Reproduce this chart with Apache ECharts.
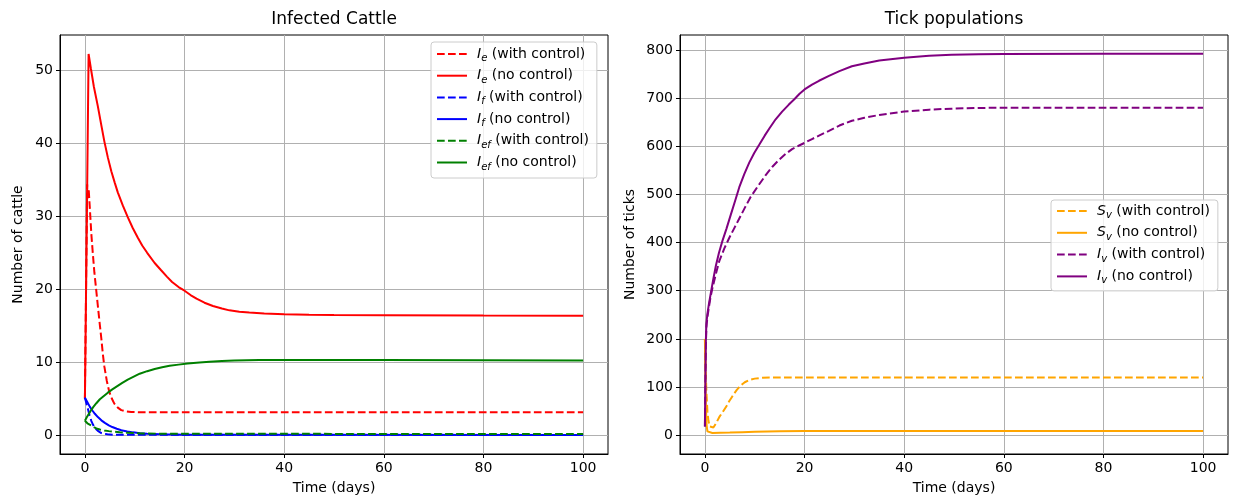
<!DOCTYPE html>
<html>
<head>
<meta charset="utf-8">
<script src="https://cdn.jsdelivr.net/npm/echarts@6/dist/echarts.min.js"></script>
<style>html,body{margin:0;padding:0;background:#fff}#c{width:1233px;height:500px}</style>
</head>
<body>
<div id="c"></div>
<script>
// ---- Tick labels ----
const xTicks = [0, 20, 40, 60, 80, 100];
const yTicksCattle = [0, 10, 20, 30, 40, 50];
const yTicksTicks = [0, 100, 200, 300, 400, 500, 600, 700, 800];

// ---- Infected Cattle ----
const tIeWC = [0, 0.45, 0.6, 0.75, 1.0, 1.3, 1.6, 1.9, 2.25, 2.6, 2.95, 3.3, 3.6, 3.9, 4.4, 4.9, 5.4, 5.9, 6.6, 7.3, 8.3, 9.3, 12, 100];
const IeWC  = [5, 34.4, 32.3, 33.8, 31, 27.5, 24.8, 22.3, 20, 17.7, 15.4, 13.2, 11.1, 9.4, 7.4, 5.9, 5.0, 4.3, 3.75, 3.4, 3.22, 3.15, 3.1, 3.1];
const tIeNC = [0, 0.74, 1.2, 1.8, 2.6, 3.3, 3.9, 4.6, 5.3, 6, 6.6, 7.6, 8.6, 9.6, 10.6, 11.5, 12.5, 14, 15.3, 16.5, 17.5, 18.8, 20, 21.2, 22.4, 24, 25.7, 27.5, 29, 31, 33, 36, 40, 45, 50, 60, 80, 100];
const IeNC  = [5.0, 52.3, 50.3, 47.8, 45.1, 42.5, 40.3, 38.1, 36.2, 34.6, 33.3, 31.5, 29.9, 28.4, 27.1, 26.0, 25.0, 23.6, 22.6, 21.7, 21.0, 20.3, 19.8, 19.2, 18.7, 18.15, 17.7, 17.35, 17.1, 16.9, 16.8, 16.68, 16.58, 16.5, 16.46, 16.42, 16.38, 16.36];
const tIfWC = [0, 0.35, 0.67, 0.93, 1.3, 1.67, 2.1, 2.6, 3.3, 4.5, 6, 100];
const IfWC  = [5.1, 4.2, 3.4, 2.7, 1.9, 1.35, 0.9, 0.55, 0.25, 0.08, 0.02, 0];
const tIfNC = [0, 0.5, 1, 1.5, 2, 2.6, 3.3, 4, 4.8, 5.5, 6.4, 7.3, 8.5, 9.7, 11, 12.5, 15, 20, 30, 100];
const IfNC  = [5.1, 4.5, 3.85, 3.35, 2.9, 2.45, 2.0, 1.65, 1.3, 1.08, 0.85, 0.65, 0.48, 0.35, 0.24, 0.16, 0.08, 0.03, 0.01, 0];
const tIefWC = [0, 0.5, 1.27, 1.8, 2.3, 3, 3.9, 4.8, 5.7, 7, 8.6, 10, 11.7, 15, 20, 100];
const IefWC  = [1.95, 1.6, 1.3, 1.08, 0.9, 0.75, 0.62, 0.52, 0.45, 0.36, 0.3, 0.25, 0.2, 0.17, 0.15, 0.13];
const tIefNC = [0, 0.4, 0.8, 1.2, 1.7, 2.3, 3, 3.8, 4.6, 5.5, 6.5, 7.5, 8.6, 9.8, 11, 12.5, 14, 15.5, 17, 18.8, 20.6, 23, 25, 27.5, 30, 35, 40, 60, 80, 100];
const IefNC  = [1.95, 2.45, 2.9, 3.35, 3.85, 4.35, 4.9, 5.35, 5.8, 6.25, 6.7, 7.15, 7.6, 8.0, 8.4, 8.75, 9.05, 9.3, 9.5, 9.65, 9.8, 9.95, 10.05, 10.15, 10.2, 10.27, 10.3, 10.3, 10.25, 10.2];

// ---- Tick populations ----
const tSvWC = [0, 0.15, 0.3, 0.5, 0.7, 1.0, 1.3, 1.7, 2.2, 2.9, 3.5, 4, 4.5, 4.9, 5.4, 5.9, 6.4, 6.9, 7.5, 8, 8.9, 10, 11.5, 13, 100];
const SvWC  = [200, 140, 90, 50, 30, 18, 14, 16, 24, 38, 47, 55, 63, 71, 79, 87, 94, 100, 106, 110, 114.5, 117.5, 119.3, 120, 120];
const tSvNC = [0, 0.1, 0.2, 0.35, 0.5, 0.8, 1.5, 3, 5, 7.5, 10, 15, 20, 30, 40, 100];
const SvNC  = [200, 120, 60, 20, 8, 5, 4.5, 5, 5.5, 6.3, 7, 8, 8.5, 8.9, 9, 9];
const tIvWC = [0, 0.1, 0.2, 0.3, 0.5, 0.8, 1.1, 1.5, 2.2, 2.9, 3.9, 4.9, 5.9, 6.9, 8, 9.2, 10.7, 12.2, 13.5, 14.9, 16.2, 17.5, 18.8, 20, 21.5, 22.9, 24.9, 27, 29.5, 32, 35, 40, 45, 49.5, 55, 60, 80, 100];
const IvWC  = [18, 110, 190, 225, 245, 266, 285, 305, 335, 362, 388, 410, 430, 450, 472, 495, 518, 540, 557, 572, 584, 594, 601, 607, 615, 622, 632, 643, 653, 659, 665, 672, 676, 678, 679.5, 680, 680, 680];
const tIvNC = [0, 0.1, 0.2, 0.3, 0.5, 0.8, 1.2, 1.7, 2.2, 2.8, 3.5, 4.3, 5.2, 6.1, 6.9, 7.9, 8.9, 9.9, 10.9, 12, 13, 14.2, 15.5, 16.8, 18, 19, 20, 21.5, 22.9, 24.9, 27, 29.5, 32, 35, 40, 45, 49.5, 55, 60, 80, 100];
const IvNC  = [18, 120, 200, 232, 252, 272, 296, 325, 352, 378, 403, 428, 458, 488, 515, 542, 566, 586, 603, 622, 638, 656, 672, 686, 698, 709, 718, 728, 736, 746, 756, 766, 772, 778, 784, 788, 790, 791, 791.5, 792, 792];

function pairs(t, v) { return t.map((x, i) => [x, v[i]]); }

const FONT = 'DejaVu Sans';
const FS = 14;
const DASH = [7.7, 3.3];
const labels = {
  IeWC: '{it|I}{sub|e}{n| (with control)}',
  IeNC: '{it|I}{sub|e}{n| (no control)}',
  IfWC: '{it|I}{sub|f}{n| (with control)}',
  IfNC: '{it|I}{sub|f}{n| (no control)}',
  IefWC: '{it|I}{sub|ef}{n| (with control)}',
  IefNC: '{it|I}{sub|ef}{n| (no control)}',
  SvWC: '{it|S}{sub|v}{n| (with control)}',
  SvNC: '{it|S}{sub|v}{n| (no control)}',
  IvWC: '{it|I}{sub|v}{n| (with control)}',
  IvNC: '{it|I}{sub|v}{n| (no control)}'
};
const rich = {
  it: { fontFamily: FONT, fontStyle: 'italic', fontSize: FS, color: '#000', lineHeight: 19, padding: [0, 0, 0, 5] },
  sub: { fontFamily: FONT, fontStyle: 'italic', fontSize: 10, color: '#000', lineHeight: 19, verticalAlign: 'bottom' },
  n: { fontFamily: FONT, fontSize: FS, color: '#000', lineHeight: 19 }
};

function mkSeries(name, t, v, color, dashed, idx) {
  return {
    name: name, type: 'line', xAxisIndex: idx, yAxisIndex: idx,
    data: pairs(t, v), symbol: 'none', showSymbol: false,
    lineStyle: { color: color, width: 2, type: dashed ? DASH : 'solid' },
    itemStyle: { color: color },
    emphasis: { disabled: true }, z: 3
  };
}

function xAxisCfg(idx) {
  return {
    type: 'value', gridIndex: idx, min: -5, max: 105,
    name: 'Time (days)', nameLocation: 'middle', nameGap: 27,
    nameTextStyle: { fontFamily: FONT, fontSize: FS, color: '#000' },
    axisLine: { show: true, onZero: false, lineStyle: { color: '#000', width: 1 } },
    axisTick: { show: true, length: 4, customValues: xTicks, lineStyle: { color: '#000' } },
    axisLabel: { customValues: xTicks, margin: 7, fontFamily: FONT, fontSize: FS, color: '#000' },
    splitLine: { show: true, lineStyle: { color: '#b0b0b0', width: 1 } }
  };
}
function yAxisCfg(idx, min, max, ticks, name, gap) {
  return {
    type: 'value', gridIndex: idx, min: min, max: max,
    name: name, nameLocation: 'middle', nameGap: gap,
    nameTextStyle: { fontFamily: FONT, fontSize: FS, color: '#000' },
    axisLine: { show: true, onZero: false, lineStyle: { color: '#000', width: 1 } },
    axisTick: { show: true, length: 4, customValues: ticks, lineStyle: { color: '#000' } },
    axisLabel: { customValues: ticks, margin: 7, fontFamily: FONT, fontSize: FS, color: '#000' },
    splitLine: { show: true, lineStyle: { color: '#b0b0b0', width: 1 } }
  };
}

const legendCommon = {
  orient: 'vertical', itemWidth: 30, itemHeight: 14,
  backgroundColor: 'rgba(255,255,255,0.8)', borderColor: '#cccccc', borderWidth: 1, borderRadius: 3,
  itemStyle: { color: 'transparent', borderColor: 'transparent', borderWidth: 0 },
  formatter: n => labels[n], textStyle: { rich: rich }, selectedMode: false
};

const chart = echarts.init(document.getElementById('c'), null, { renderer: 'canvas' });
chart.setOption({
  animation: false,
  backgroundColor: '#fff',
  title: [
    { text: 'Infected Cattle', left: 334, top: 11, textAlign: 'center', padding: 0,
      textStyle: { fontFamily: FONT, fontSize: 17, fontWeight: 'normal', color: '#000' } },
    { text: 'Tick populations', left: 954, top: 11, textAlign: 'center', padding: 0,
      textStyle: { fontFamily: FONT, fontSize: 17, fontWeight: 'normal', color: '#000' } }
  ],
  grid: [
    { left: 60, top: 35, width: 548, height: 421, show: true, borderColor: '#000', borderWidth: 1, backgroundColor: 'transparent' },
    { left: 680, top: 35, width: 548, height: 421, show: true, borderColor: '#000', borderWidth: 1, backgroundColor: 'transparent' }
  ],
  xAxis: [xAxisCfg(0), xAxisCfg(1)],
  yAxis: [
    yAxisCfg(0, -2.62, 54.9, yTicksCattle, 'Number of cattle', 35),
    yAxisCfg(1, -39, 831, yTicksTicks, 'Number of ticks', 43)
  ],
  legend: [
    Object.assign({}, legendCommon, { left: 431, top: 42, itemGap: 5.2, padding: [5, 8, 6, 5],
      data: ['IeWC', 'IeNC', 'IfWC', 'IfNC', 'IefWC', 'IefNC'] }),
    Object.assign({}, legendCommon, { left: 1051, top: 200, itemGap: 5.3, padding: [4, 8, 5, 5],
      data: ['SvWC', 'SvNC', 'IvWC', 'IvNC'] })
  ],
  series: [
    mkSeries('IeWC', tIeWC, IeWC, '#ff0000', true, 0),
    mkSeries('IeNC', tIeNC, IeNC, '#ff0000', false, 0),
    mkSeries('IfWC', tIfWC, IfWC, '#0000ff', true, 0),
    mkSeries('IfNC', tIfNC, IfNC, '#0000ff', false, 0),
    mkSeries('IefWC', tIefWC, IefWC, '#008000', true, 0),
    mkSeries('IefNC', tIefNC, IefNC, '#008000', false, 0),
    mkSeries('SvWC', tSvWC, SvWC, '#ffa500', true, 1),
    mkSeries('SvNC', tSvNC, SvNC, '#ffa500', false, 1),
    mkSeries('IvWC', tIvWC, IvWC, '#800080', true, 1),
    mkSeries('IvNC', tIvNC, IvNC, '#800080', false, 1)
  ]
});
</script>
</body>
</html>
